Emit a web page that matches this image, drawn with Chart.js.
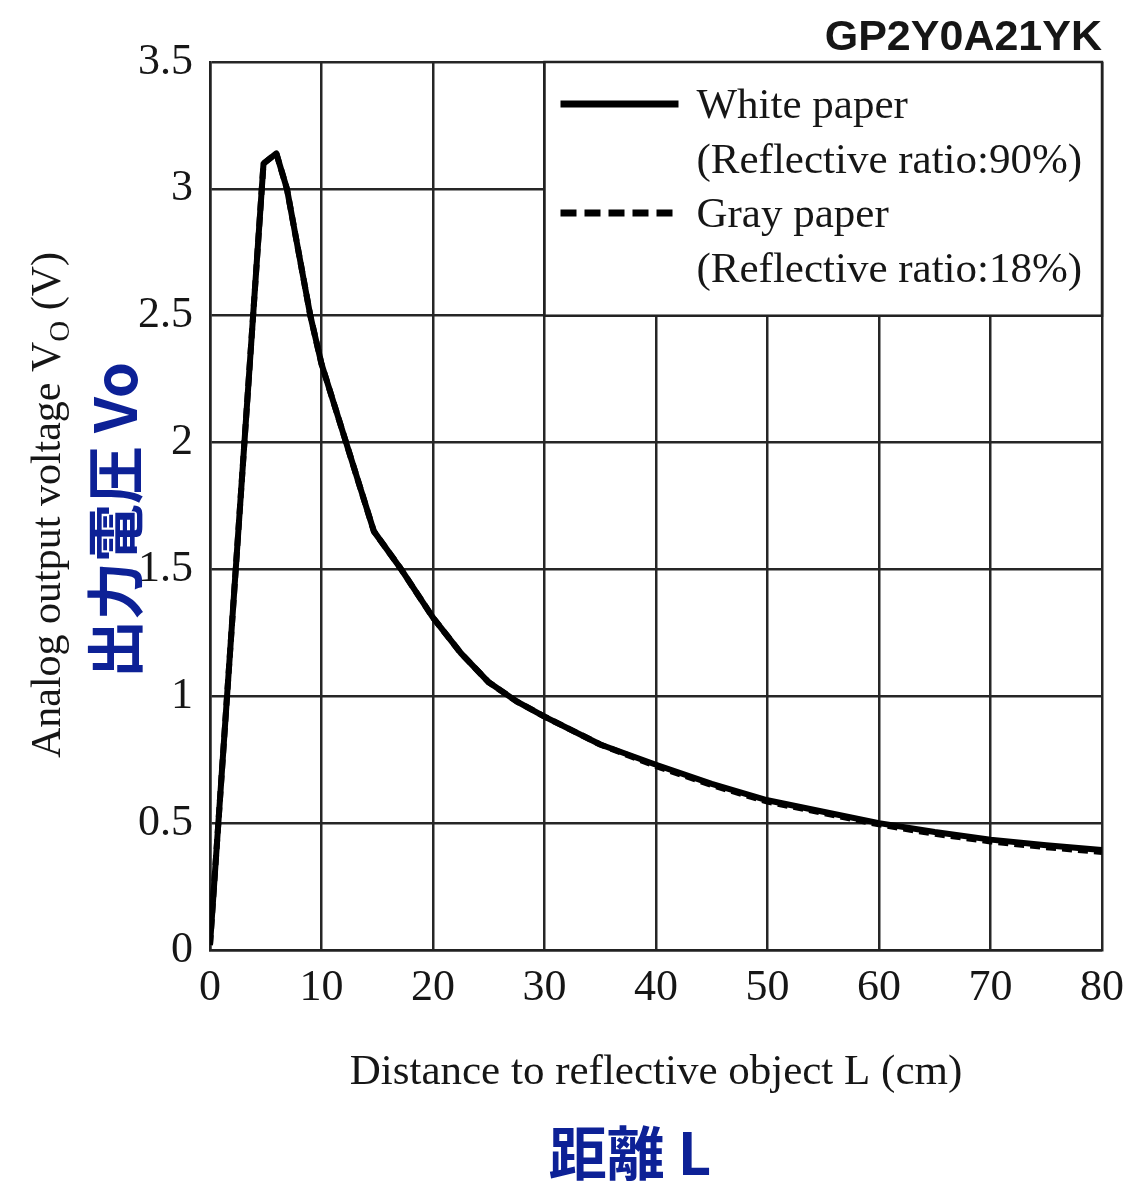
<!DOCTYPE html>
<html>
<head>
<meta charset="utf-8">
<script src="https://cdn.jsdelivr.net/npm/chart.js@4.4.0/dist/chart.umd.min.js"></script>
<style>
  html, body { margin: 0; padding: 0; background: #fff; }
  #wrap { width: 1132px; height: 1182px; }
</style>
</head>
<body>
<div id="wrap"><canvas id="sensorChart" width="1132" height="1182"></canvas></div>
<script>
// distance (cm) and output voltage (V)
const distance = [0, 4.8, 5.95, 6.9, 9, 10, 14.7, 17, 20, 22.5, 25, 27.5, 30, 35, 40, 45, 50, 55, 60, 65, 70, 75, 80];
const whitePaper = [0.02, 3.10, 3.14, 3.0, 2.50, 2.31, 1.65, 1.51, 1.31, 1.17, 1.055, 0.98, 0.92, 0.81, 0.73, 0.655, 0.59, 0.545, 0.50, 0.465, 0.435, 0.413, 0.394];
const grayPaper  = [0.02, 3.10, 3.14, 3.0, 2.50, 2.31, 1.65, 1.51, 1.31, 1.17, 1.055, 0.98, 0.92, 0.81, 0.725, 0.65, 0.585, 0.54, 0.495, 0.458, 0.428, 0.405, 0.386];
const xTicks = [0, 10, 20, 30, 40, 50, 60, 70, 80];
const yTicks = [0, 0.5, 1, 1.5, 2, 2.5, 3, 3.5];
const seriesNames = ['White paper', 'Gray paper'];
const seriesNotes = ['(Reflective ratio:90%)', '(Reflective ratio:18%)'];

const serif = '"Liberation Serif", "Times New Roman", serif';
const ink = '#161616';
const blue = '#0d2196';

function toPoints(ys) {
  return distance.map((d, i) => ({ x: d, y: ys[i] }));
}

// titles, legend box and the blue annotations
const decorations = {
  id: 'decorations',
  afterDraw(chart) {
    const ctx = chart.ctx;
    const area = chart.chartArea;
    ctx.save();

    // model name
    ctx.fillStyle = ink;
    ctx.font = 'bold 43px "Liberation Sans", Arial, sans-serif';
    ctx.textAlign = 'right';
    ctx.textBaseline = 'alphabetic';
    ctx.fillText('GP2Y0A21YK', area.right, 50);

    // legend box in the upper right cell block
    const xs = chart.scales.x, ys = chart.scales.y;
    const bx = xs.getPixelForValue(30), by = area.top;
    const bw = area.right - bx, bh = ys.getPixelForValue(2.5) - area.top;
    ctx.fillStyle = '#fff';
    ctx.fillRect(bx, by, bw, bh);
    ctx.strokeStyle = '#222';
    ctx.lineWidth = 2.5;
    ctx.strokeRect(bx, by, bw, bh);

    const rows = [104, 213];
    const dashes = [[], [16, 8]];
    chart.data.datasets.forEach((ds, i) => {
      ctx.beginPath();
      ctx.strokeStyle = '#000';
      ctx.lineWidth = 7;
      ctx.setLineDash(dashes[i]);
      ctx.moveTo(bx + 16, rows[i]);
      ctx.lineTo(bx + 134, rows[i]);
      ctx.stroke();
      ctx.setLineDash([]);
      ctx.fillStyle = ink;
      ctx.font = '43px ' + serif;
      ctx.textAlign = 'left';
      ctx.fillText(seriesNames[i], bx + 152, rows[i] + 14);
      ctx.fillText(seriesNotes[i], bx + 152, rows[i] + 69);
    });

    // x axis titles
    ctx.textAlign = 'center';
    ctx.fillStyle = ink;
    ctx.font = '43px ' + serif;
    ctx.fillText('Distance to reflective object L (cm)', 656, 1084);
    ctx.fillStyle = blue;
    ctx.font = 'bold 58px "Noto Sans CJK JP", sans-serif';
    ctx.fillText('距離 L', 630, 1175);

    // y axis titles (rotated)
    ctx.save();
    ctx.translate(60, 505);
    ctx.rotate(-Math.PI / 2);
    ctx.fillStyle = ink;
    const main = 'Analog output voltage V';
    const tail = ' (V)';
    ctx.font = '42px ' + serif;
    const w1 = ctx.measureText(main).width;
    ctx.font = '29px ' + serif;
    const w2 = ctx.measureText('O').width;
    ctx.font = '42px ' + serif;
    const w3 = ctx.measureText(tail).width;
    const x0 = -(w1 + w2 + w3) / 2;
    ctx.textAlign = 'left';
    ctx.fillText(main, x0, 0);
    ctx.font = '29px ' + serif;
    ctx.fillText('O', x0 + w1, 9);
    ctx.font = '42px ' + serif;
    ctx.fillText(tail, x0 + w1 + w2, 0);
    ctx.restore();

    ctx.save();
    ctx.translate(137, 520);
    ctx.rotate(-Math.PI / 2);
    ctx.fillStyle = blue;
    ctx.font = 'bold 58px "Noto Sans CJK JP", sans-serif';
    ctx.textAlign = 'center';
    ctx.fillText('出力電圧 Vo', 0, 0);
    ctx.restore();

    ctx.restore();
  }
};

new Chart(document.getElementById('sensorChart'), {
  type: 'line',
  data: {
    datasets: [
      {
        label: seriesNames[0],
        data: toPoints(whitePaper),
        borderColor: '#000',
        borderWidth: 6,
        pointRadius: 0,
        tension: 0,
        borderJoinStyle: 'round',
        fill: false
      },
      {
        label: seriesNames[1],
        data: toPoints(grayPaper),
        borderColor: '#000',
        borderWidth: 6,
        borderDash: [10, 6],
        pointRadius: 0,
        tension: 0,
        fill: false
      }
    ]
  },
  options: {
    responsive: false,
    animation: false,
    layout: { padding: { top: 62, right: 30, left: 0, bottom: 0 } },
    plugins: {
      legend: { display: false },
      tooltip: { enabled: false }
    },
    scales: {
      x: {
        type: 'linear',
        min: 0,
        max: 80,
        afterFit(scale) {
          scale.height = 232;
          scale.paddingLeft = 0;
          scale.paddingRight = 0;
        },
        afterBuildTicks(scale) { scale.ticks = xTicks.map(v => ({ value: v })); },
        grid: { color: '#262626', lineWidth: 2.5, drawTicks: false },
        border: { color: '#222', width: 2.5 },
        ticks: {
          color: ink,
          padding: 12,
          maxRotation: 0,
          font: { family: serif, size: 44 },
          callback: v => String(v)
        }
      },
      y: {
        min: 0,
        max: 3.5,
        afterFit(scale) {
          scale.width = 210;
          scale.paddingTop = 0;
          scale.paddingBottom = 0;
        },
        afterBuildTicks(scale) { scale.ticks = yTicks.map(v => ({ value: v })); },
        grid: { color: '#262626', lineWidth: 2.5, drawTicks: false },
        border: { color: '#222', width: 2.5 },
        ticks: {
          color: ink,
          padding: 17,
          font: { family: serif, size: 44 },
          callback: v => String(v)
        }
      }
    }
  },
  plugins: [decorations]
});
</script>
</body>
</html>
